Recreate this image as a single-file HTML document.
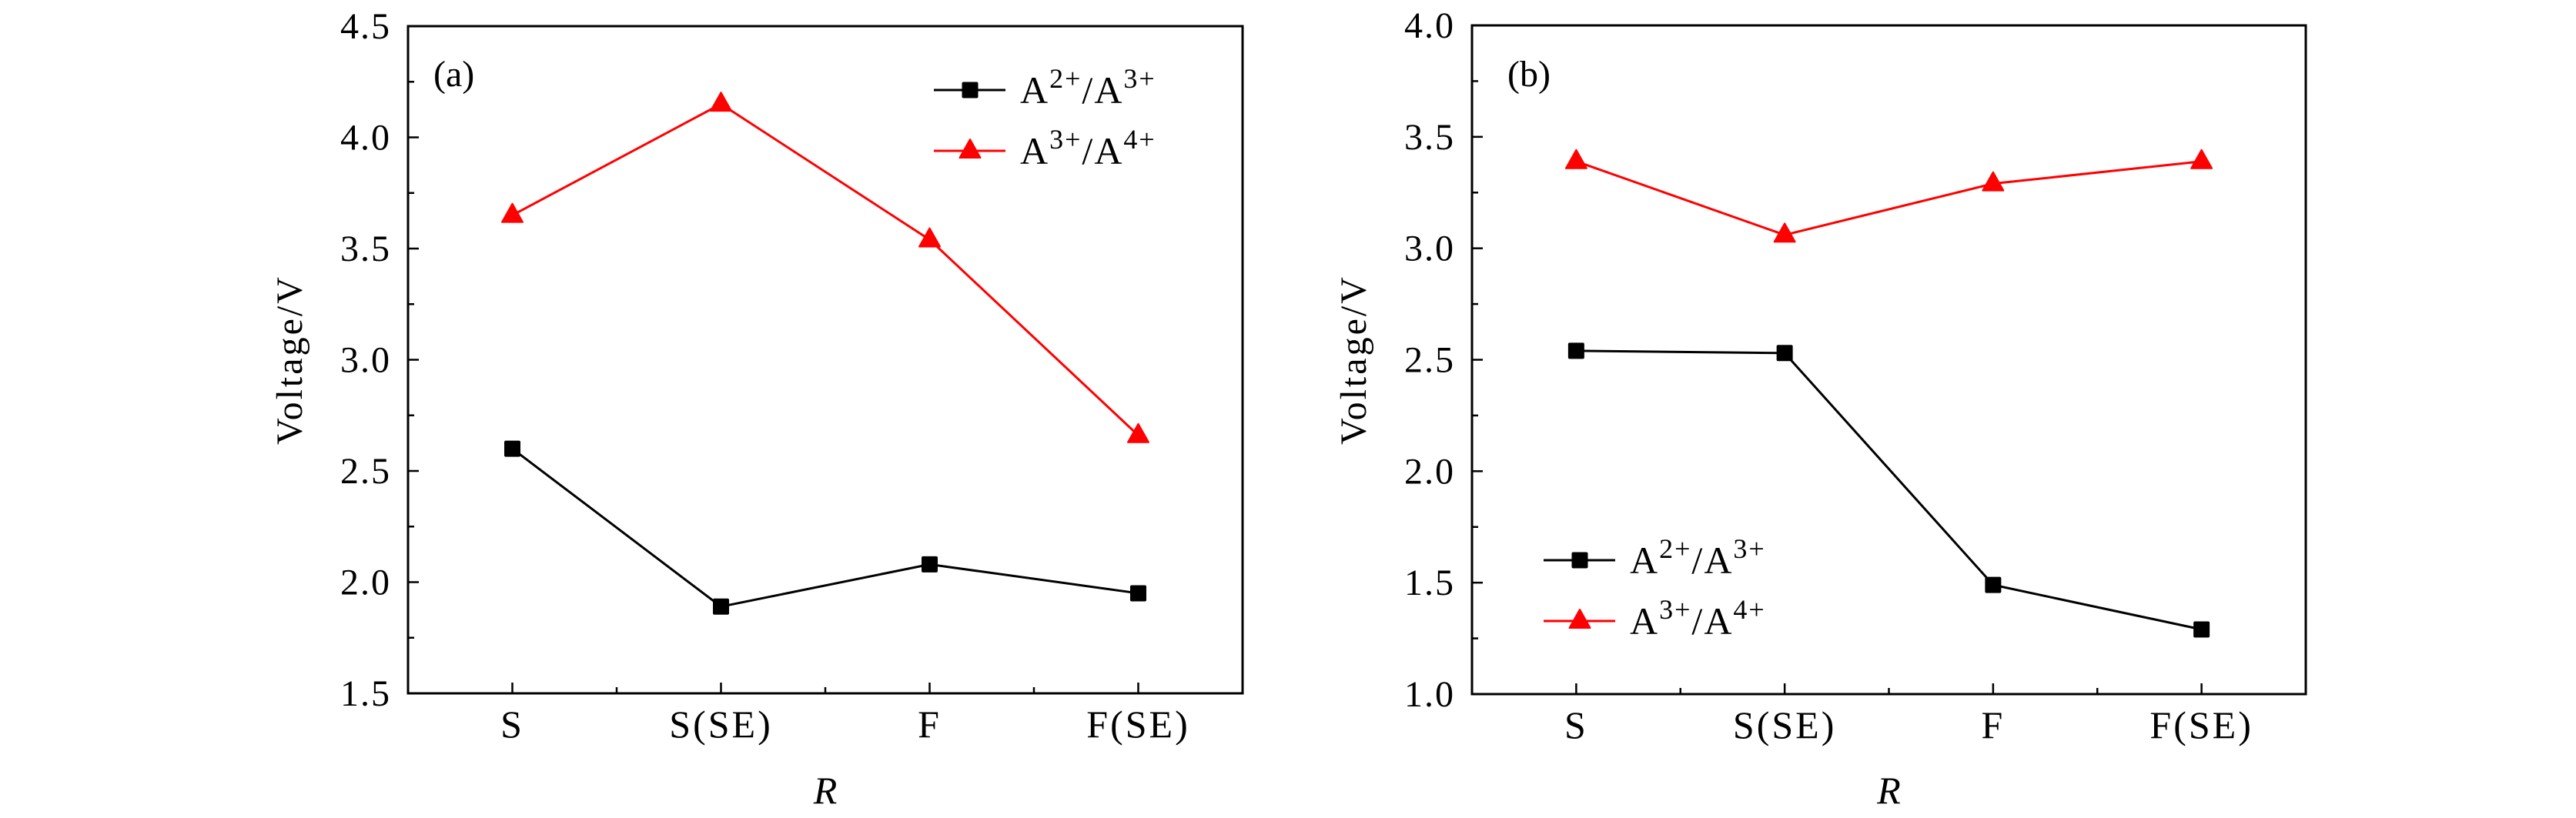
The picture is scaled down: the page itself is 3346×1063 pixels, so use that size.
<!DOCTYPE html>
<html><head><meta charset="utf-8"><style>
html,body{margin:0;padding:0;background:#fff;}
svg{display:block;font-family:"Liberation Serif",serif;}
</style></head><body>
<svg id="fig" width="3346" height="1063" xmlns="http://www.w3.org/2000/svg"></svg>
<script>
const categories = ["S","S(SE)","F","F(SE)"];
const aBlack = [2.60, 1.89, 2.08, 1.95];
const aRed = [3.65, 4.15, 3.54, 2.66];
const bBlack = [2.54, 2.53, 1.49, 1.29];
const bRed = [3.39, 3.06, 3.29, 3.39];
const aTicks = ["1.5","2.0","2.5","3.0","3.5","4.0","4.5"];
const bTicks = ["1.0","1.5","2.0","2.5","3.0","3.5","4.0"];

const NS="http://www.w3.org/2000/svg";
const svg=document.getElementById('fig');
function mk(tag,attrs,parent,text){const e=document.createElementNS(NS,tag);for(const k in attrs)e.setAttribute(k,attrs[k]);if(text!==undefined)e.textContent=text;(parent||svg).appendChild(e);return e;}

function panel(cfg){
  const g=mk('g',{});
  
  
  const L=cfg.L,R=cfg.R,T=cfg.T,B=cfg.B;
  const ymin=parseFloat(cfg.ticks[0]), ymax=parseFloat(cfg.ticks[cfg.ticks.length-1]);
  const sx=i=>L+(R-L)*(i+0.5)/categories.length;
  const sy=v=>B-(B-T)*(v-ymin)/(ymax-ymin);
  const frame=mk('rect',{x:L,y:T,width:R-L,height:B-T,fill:'none',stroke:'#000','stroke-width':3},g);
  
  
  cfg.ticks.forEach((t,k)=>{
    const v=parseFloat(t), y=sy(v);
    mk('line',{x1:L,x2:L+14,y1:y,y2:y,stroke:'#000','stroke-width':2.5},g);
    if(k<cfg.ticks.length-1){const ym=sy(v+0.25);mk('line',{x1:L,x2:L+8,y1:ym,y2:ym,stroke:'#000','stroke-width':2.5},g);}
    const tl=mk('text',{x:L-22,y:y+16,'text-anchor':'end','font-size':48,'letter-spacing':'2'},g,t);
    
    
  });
  categories.forEach((c,i)=>{
    const x=sx(i);
    mk('line',{x1:x,x2:x,y1:B,y2:B-14,stroke:'#000','stroke-width':2.5},g);
    if(i<categories.length-1){const xm=(x+sx(i+1))/2;mk('line',{x1:xm,x2:xm,y1:B,y2:B-8,stroke:'#000','stroke-width':2.5},g);}
    const cl=mk('text',{x:x,y:B+57,'text-anchor':'middle','font-size':50,'letter-spacing':'3'},g,c);
    
    
  });
  const yt=mk('text',{x:0,y:0,'text-anchor':'middle','font-size':48,'letter-spacing':'3',transform:`translate(${cfg.ytx},${(T+B)/2}) rotate(-90)`},g,'Voltage/V');
  
  
  const xt=mk('text',{x:(L+R)/2,y:1044,'text-anchor':'middle','font-size':50,'font-style':'italic'},g,'R');
  
  
  const pl=mk('text',{x:cfg.labX,y:112,'font-size':48},g,cfg.label);
  
  
  function series(vals,color,shape,name){
    const sg=mk('g',{},g);
    
    
    mk('polyline',{points:vals.map((v,i)=>sx(i)+','+sy(v)).join(' '),fill:'none',stroke:color,'stroke-width':3},sg);
    vals.forEach((v,i)=>{const m=marker(sx(i),sy(v),shape,color,sg);
      
      });
  }
  series(cfg.black,'#000','sq','series-a2-a3');
  series(cfg.red,'#ff0000','tri','series-a3-a4');
  const lg=mk('g',{},g);
  
  
  [['#000','sq','2+','3+'],['#ff0000','tri','3+','4+']].forEach((e,k)=>{
    const y=cfg.legY+k*79, x0=cfg.legX;
    const le=mk('g',{},lg);
    
    
    mk('line',{x1:x0,x2:x0+93,y1:y,y2:y,stroke:e[0],'stroke-width':3},le);
    marker(x0+47,y,e[1],e[0],le);
    const t=mk('text',{x:x0+112,y:y+17,'font-size':50,'letter-spacing':'2'},le);
    mk('tspan',{},t,'A');
    mk('tspan',{dy:-20,'font-size':36},t,e[2]);
    mk('tspan',{dy:20},t,'/A');
    mk('tspan',{dy:-20,'font-size':36},t,e[3]);
  });
}
function marker(x,y,shape,color,parent){
  if(shape==='sq') return mk('rect',{x:x-10.5,y:y-10.5,width:21,height:21,rx:2,fill:color},parent);
  return mk('polygon',{points:`${x},${y-15} ${x-13.5},${y+9} ${x+13.5},${y+9}`,fill:color,stroke:color,'stroke-width':2,'stroke-linejoin':'round'},parent);
}
panel({name:'panel-a',L:530,R:1614,T:34,B:901,ticks:aTicks,black:aBlack,red:aRed,ytx:392,labX:563,label:'(a)',legX:1213,legY:117});
panel({name:'panel-b',L:1912,R:2995,T:33,B:902,ticks:bTicks,black:bBlack,red:bRed,ytx:1774,labX:1958,label:'(b)',legX:2005,legY:728});
</script>
</body></html>
